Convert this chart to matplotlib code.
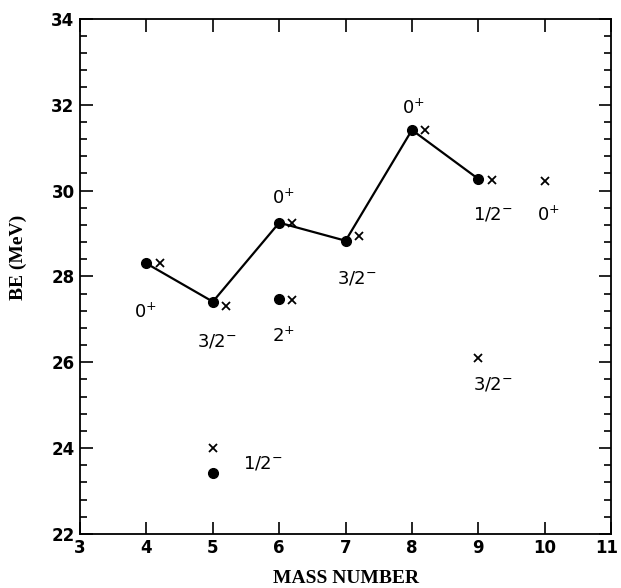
import numpy as np
import matplotlib
matplotlib.use("Agg")
import matplotlib.pyplot as plt
import matplotlib.transforms as mtransforms
from matplotlib.ticker import MultipleLocator

# ground states (connected) : experiment (dots) and calculation (crosses)
mass = [4, 5, 6, 7, 8, 9]
be_exp = [28.30, 27.41, 29.25, 28.83, 31.41, 30.27]
mass_calc = [4.2, 5.2, 6.2, 7.2, 8.2, 9.2]
be_calc = [28.30, 27.32, 29.25, 28.94, 31.40, 30.25]

# excited states / extra points
extra_exp_x = [6, 5]
extra_exp_y = [27.47, 23.41]
extra_calc_x = [6.2, 5, 10, 9]
extra_calc_y = [27.45, 24.00, 30.21, 26.09]

# spin-parity labels
lab_text = [r"0$^{+}$", r"3/2$^{-}$", r"0$^{+}$", r"2$^{+}$", r"1/2$^{-}$", r"3/2$^{-}$",
            r"0$^{+}$", r"1/2$^{-}$", r"0$^{+}$", r"3/2$^{-}$"]
lab_x = [3.98, 5.06, 6.06, 6.06, 5.75, 7.17, 8.02, 9.22, 10.05, 9.22]
lab_y = [27.18, 26.48, 29.82, 26.60, 23.64, 27.96, 31.92, 29.43, 29.43, 25.47]

fig = plt.figure(figsize=(6.21, 5.88), dpi=100)
ax = fig.add_axes([0.129, 0.092, 0.855, 0.876])

ax.plot(mass, be_exp, color="black", lw=1.6, marker="o", ms=7, zorder=3)
ax.plot(mass_calc, be_calc, ls="none", marker="x", color="black", ms=6, mew=1.3)
ax.plot(extra_exp_x, extra_exp_y, ls="none", marker="o", color="black", ms=7)
ax.plot(extra_calc_x, extra_calc_y, ls="none", marker="x", color="black", ms=6, mew=1.3)

for t, x, y in zip(lab_text, lab_x, lab_y):
    ax.text(x, y, t, ha="center", va="center", fontsize=13, family="DejaVu Sans")

ax.set_xlim(3, 11)
ax.set_ylim(22, 34)
ax.set_xticks(range(3, 12))
ax.yaxis.set_major_locator(MultipleLocator(2))
ax.yaxis.set_minor_locator(MultipleLocator(0.4))
ax.tick_params(which="both", direction="in", top=True, right=True, width=1.2)
ax.tick_params(which="major", length=9)
ax.tick_params(which="minor", length=5)
ax.tick_params(axis="x", pad=4)
ax.tick_params(axis="y", pad=4)
for s in ax.spines.values():
    s.set_linewidth(1.3)

ax.set_xlabel("MASS NUMBER", family="Liberation Serif", fontweight="bold", fontsize=14, labelpad=9)
ax.set_ylabel("BE (MeV)", family="Liberation Serif", fontweight="bold", fontsize=14)
ax.yaxis.set_label_coords(-0.10, 0.536)

fig.canvas.draw()
for tk in ax.xaxis.get_major_ticks() + ax.yaxis.get_major_ticks():
    tk.label1.set_fontfamily("DejaVu Sans")
    tk.label1.set_fontweight("bold")
    tk.label1.set_fontsize(12)
# keep the "11" inside the figure edge
lab11 = ax.xaxis.get_major_ticks()[-1].label1
lab11.set_transform(lab11.get_transform() + mtransforms.ScaledTranslation(-3 / 72, 0, fig.dpi_scale_trans))

fig.savefig("out.png", dpi=100)
